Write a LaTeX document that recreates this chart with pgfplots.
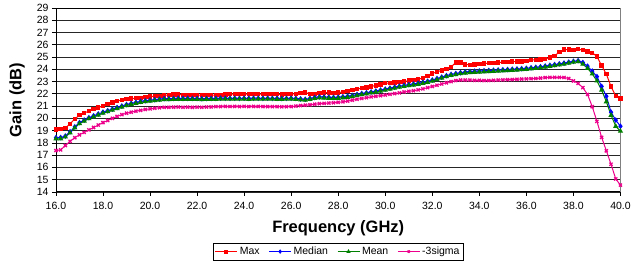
\documentclass[border=0pt]{standalone}
\usepackage{pgfplots}
\pgfplotsset{compat=1.18}
\usepackage{pgfplotstable}
\usepackage{fontspec}
\setmainfont{Liberation Sans}

\pgfplotstableread{
f mx md mn sg
16.0 19.10 18.42 18.32 17.37
16.2 19.12 18.43 18.33 17.42
16.4 19.20 18.55 18.48 17.78
16.6 19.55 18.90 18.82 18.12
16.8 19.95 19.30 19.22 18.42
17.0 20.25 19.65 19.57 18.65
17.2 20.42 19.85 19.78 18.85
17.4 20.60 20.05 19.97 19.05
17.6 20.75 20.20 20.12 19.25
17.8 20.88 20.35 20.27 19.45
18.0 21.00 20.50 20.42 19.65
18.2 21.15 20.62 20.54 19.82
18.4 21.30 20.75 20.67 20.00
18.6 21.40 20.88 20.80 20.15
18.8 21.50 21.00 20.92 20.30
19.0 21.56 21.12 21.04 20.42
19.2 21.60 21.22 21.14 20.50
19.4 21.64 21.30 21.22 20.58
19.6 21.67 21.38 21.30 20.65
19.8 21.72 21.43 21.36 20.72
20.0 21.77 21.48 21.41 20.77
20.2 21.80 21.52 21.45 20.82
20.4 21.83 21.56 21.49 20.86
20.6 21.87 21.60 21.52 20.90
20.8 21.90 21.60 21.53 20.90
21.0 21.93 21.62 21.55 20.91
21.2 21.95 21.63 21.55 20.92
21.4 21.90 21.62 21.54 20.90
21.6 21.92 21.63 21.55 20.91
21.8 21.90 21.62 21.54 20.90
22.0 21.90 21.62 21.55 20.91
22.2 21.88 21.60 21.52 20.90
22.4 21.92 21.62 21.55 20.92
22.6 21.90 21.62 21.54 20.93
22.8 21.90 21.63 21.55 20.95
23.0 21.92 21.64 21.56 20.96
23.2 21.95 21.64 21.57 20.97
23.4 21.97 21.63 21.56 20.96
23.6 21.98 21.64 21.57 20.97
23.8 21.97 21.63 21.56 20.96
24.0 21.98 21.64 21.57 20.97
24.2 21.97 21.63 21.55 20.96
24.4 21.98 21.64 21.56 20.97
24.6 21.99 21.64 21.57 20.97
24.8 21.97 21.63 21.56 20.96
25.0 21.98 21.64 21.57 20.96
25.2 21.97 21.63 21.56 20.95
25.4 21.96 21.63 21.55 20.95
25.6 21.95 21.62 21.55 20.94
25.8 21.96 21.63 21.56 20.95
26.0 21.97 21.64 21.57 20.96
26.2 22.00 21.62 21.55 21.00
26.4 22.05 21.58 21.50 21.04
26.6 22.10 21.55 21.48 21.07
26.8 22.00 21.62 21.55 21.10
27.0 21.98 21.70 21.62 21.15
27.2 22.05 21.75 21.67 21.19
27.4 22.10 21.74 21.66 21.22
27.6 22.10 21.72 21.64 21.24
27.8 22.08 21.71 21.63 21.27
28.0 22.10 21.72 21.64 21.30
28.2 22.15 21.76 21.68 21.35
28.4 22.22 21.80 21.72 21.40
28.6 22.30 21.86 21.78 21.48
28.8 22.38 21.94 21.86 21.55
29.0 22.46 22.02 21.94 21.62
29.2 22.52 22.08 22.00 21.68
29.4 22.60 22.15 22.07 21.75
29.6 22.68 22.22 22.14 21.80
29.8 22.77 22.30 22.22 21.85
30.0 22.86 22.38 22.30 21.90
30.2 22.88 22.46 22.38 21.96
30.4 22.92 22.54 22.46 22.02
30.6 22.95 22.62 22.54 22.08
30.8 23.00 22.68 22.60 22.15
31.0 23.07 22.75 22.67 22.20
31.2 23.12 22.80 22.72 22.25
31.4 23.18 22.86 22.78 22.32
31.6 23.30 22.94 22.86 22.40
31.8 23.45 23.02 22.94 22.50
32.0 23.65 23.12 23.04 22.60
32.2 23.80 23.24 23.16 22.70
32.4 23.90 23.36 23.28 22.80
32.6 24.00 23.48 23.40 22.90
32.8 24.20 23.58 23.50 23.00
33.0 24.55 23.65 23.57 23.08
33.2 24.55 23.72 23.64 23.12
33.4 24.40 23.78 23.70 23.12
33.6 24.35 23.82 23.74 23.12
33.8 24.40 23.84 23.76 23.10
34.0 24.45 23.86 23.78 23.10
34.2 24.48 23.88 23.80 23.08
34.4 24.50 23.90 23.82 23.08
34.6 24.52 23.92 23.84 23.10
34.8 24.55 23.94 23.86 23.12
35.0 24.58 23.96 23.88 23.14
35.2 24.60 23.98 23.90 23.15
35.4 24.62 24.00 23.92 23.16
35.6 24.62 24.02 23.94 23.18
35.8 24.65 24.05 23.97 23.20
36.0 24.70 24.08 24.00 23.22
36.2 24.75 24.12 24.04 23.23
36.4 24.78 24.16 24.08 23.25
36.6 24.80 24.20 24.12 23.28
36.8 24.85 24.26 24.18 23.32
37.0 24.95 24.32 24.24 23.34
37.2 25.10 24.38 24.30 23.34
37.4 25.40 24.44 24.36 23.34
37.6 25.60 24.50 24.42 23.33
37.8 25.62 24.58 24.50 23.25
38.0 25.58 24.65 24.58 23.05
38.2 25.65 24.70 24.62 22.85
38.4 25.55 24.55 24.42 22.50
38.6 25.45 24.25 24.08 21.95
38.8 25.35 23.85 23.62 20.95
39.0 25.05 23.40 23.05 19.75
39.2 24.30 22.60 22.30 18.45
39.4 23.60 21.80 21.35 17.35
39.6 22.60 20.50 20.25 16.25
39.8 21.80 19.85 19.35 15.05
40.0 21.62 19.35 18.95 14.55
}\data

\definecolor{xlgreen}{RGB}{0,128,0}

\begin{document}
\begin{tikzpicture}
\path (-56pt,-74pt) rectangle (578pt,192pt);
\begin{axis}[
  at={(0pt,0pt)}, anchor=south west,
  scale only axis, width=565pt, height=184pt,
  xmin=16, xmax=40, ymin=14, ymax=29,
  xtick={16,18,...,40}, ytick={14,15,...,29},
  /pgf/number format/assume math mode=true,
  xticklabel style={/pgf/number format/fixed, /pgf/number format/fixed zerofill, /pgf/number format/precision=1, yshift=-3pt},
  ticklabel style={font=\fontsize{10.5}{12}\selectfont},
  ymajorgrids, grid style={black!85, line width=0.6pt},
  tick align=outside, major tick length=4pt,
  tick style={black, line width=0.6pt},
  xtick pos=lower, ytick pos=left,
  axis line style={black!50, line width=0.8pt},
  clip=false,
  xlabel={Frequency (GHz)}, ylabel={Gain (dB)},
  label style={font=\bfseries\fontsize{16.5}{20}\selectfont},
  xlabel style={at={(axis description cs:0.5,-0.196)}, anchor=center},
  ylabel style={at={(axis description cs:-0.069,0.5)}, anchor=center},
  legend style={at={(axis description cs:0.5,-0.277)}, anchor=north,
    draw=black, line width=0.6pt, inner sep=2pt,
    font=\fontsize{10.5}{12}\selectfont,
    /tikz/every even column/.append style={column sep=7pt}},
  legend columns=4, legend cell align=left,
  legend image code/.code={\draw[mark repeat=2,mark phase=2,#1,mark size=1.5pt] plot coordinates {(0pt,0pt)(11pt,0pt)(22pt,0pt)};},
]
\addplot[red, line width=1pt, mark=square*, mark size=1.7pt] table[x=f,y=mx]{\data};
\addlegendentry{Max}
\addplot[blue, line width=1pt, mark=diamond*, mark size=2.1pt] table[x=f,y=md]{\data};
\addlegendentry{Median}
\addplot[xlgreen, line width=1pt, mark=triangle*, mark size=2.1pt] table[x=f,y=mn]{\data};
\addlegendentry{Mean}
\addplot[magenta, line width=1pt, mark=x, mark size=2.2pt, mark options={line width=1.3pt}] table[x=f,y=sg]{\data};
\addlegendentry{-3sigma}
\draw[black, line width=0.8pt] (rel axis cs:1,1) -- (rel axis cs:0,1) -- (rel axis cs:0,0) -- (rel axis cs:1,0);
\end{axis}
\end{tikzpicture}
\end{document}
